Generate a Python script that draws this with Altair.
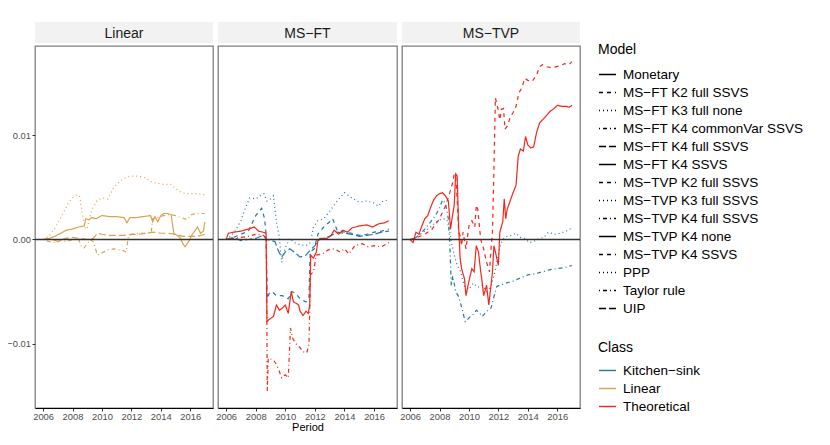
import altair as alt
import pandas as pd

FONT = "Liberation Sans"
M = "\u2212"

PANELS = ["Linear", f"MS{M}FT", f"MS{M}TVP"]
CLASSES = [f"Kitchen{M}sink", "Linear", "Theoretical"]
CLASS_COLORS = ["#2476a8", "#dba24f", "#f2261a"]

MODELS = [
    "Monetary",
    f"MS{M}FT K2 full SSVS",
    f"MS{M}FT K3 full none",
    f"MS{M}FT K4 commonVar SSVS",
    f"MS{M}FT K4 full SSVS",
    f"MS{M}FT K4 SSVS",
    f"MS{M}TVP K2 full SSVS",
    f"MS{M}TVP K3 full SSVS",
    f"MS{M}TVP K4 full SSVS",
    f"MS{M}TVP K4 none",
    f"MS{M}TVP K4 SSVS",
    "PPP",
    "Taylor rule",
    "UIP",
]
SOLID = [1, 0]
DASHED = [4, 4]
DOTTED = [1, 3]
DOTDASH = [1, 3, 4, 3]
LONGDASH = [7, 3]
MODEL_DASHES = [SOLID, DASHED, DOTTED, DOTDASH, LONGDASH, SOLID, DASHED, DOTTED,
                DOTDASH, SOLID, DASHED, DOTTED, DOTDASH, LONGDASH]

X_TICKS = [2006, 2008, 2010, 2012, 2014, 2016]
Y_TICKS = [-0.01, 0.0, 0.01]

# ---------------- Linear panel ----------------
lin_monetary_t = [2006.0, 2006.4, 2006.8, 2007.2, 2007.6, 2008.0, 2008.4, 2008.8, 2008.9, 2009.1,
                  2009.3, 2009.6, 2010.0, 2010.5, 2011.0, 2011.5, 2011.7, 2011.9, 2012.3, 2012.8,
                  2013.3, 2013.45, 2013.6, 2013.8, 2014.0, 2014.2, 2014.4, 2014.7, 2014.9, 2015.0,
                  2015.3, 2015.5, 2015.65, 2015.9, 2016.1, 2016.3, 2016.5, 2016.7, 2016.9, 2017.0]
lin_monetary_v = [0.0, 0.0001, 0.0003, 0.0006, 0.0009, 0.0010, 0.0012, 0.0013, 0.0020, 0.0019,
                  0.0021, 0.0020, 0.0023, 0.0022, 0.0022, 0.0021, 0.0016, 0.0021, 0.0021, 0.0022,
                  0.0023, 0.0017, 0.0022, 0.0017, 0.0023, 0.0025, 0.0025, 0.0024, 0.0005, 0.0005,
                  0.0002, -0.0004, -0.0007, -0.0002, 0.0004, 0.0008, 0.0012, 0.0006, 0.0008, 0.0017]

lin_ppp_t = [2006.0, 2006.4, 2006.8, 2007.2, 2007.5, 2007.75, 2008.0, 2008.3, 2008.5, 2008.65,
             2008.87, 2009.0, 2009.3, 2009.65, 2010.0, 2010.4, 2010.8, 2011.3, 2011.7, 2012.0,
             2012.5, 2013.0, 2013.4, 2013.8, 2014.2, 2014.7, 2015.0, 2015.3, 2015.7, 2016.0,
             2016.5, 2017.0]
lin_ppp_v = [0.0, 0.0003, 0.0011, 0.0021, 0.0029, 0.0036, 0.0040, 0.0043, 0.0041, 0.0026,
             0.0010, 0.0011, 0.0028, 0.0037, 0.0040, 0.0039, 0.0050, 0.0057, 0.0060, 0.0061,
             0.0061, 0.0059, 0.0055, 0.0054, 0.0053, 0.0053, 0.0049, 0.0046, 0.0044, 0.0044,
             0.0044, 0.0043]

lin_taylor_t = [2006.0, 2006.4, 2006.8, 2007.2, 2007.6, 2008.0, 2008.4, 2008.6, 2008.8, 2009.0,
                2009.2, 2009.4, 2009.7, 2010.0, 2010.4, 2010.8, 2011.2, 2011.5, 2011.65, 2011.8,
                2012.0, 2012.5, 2013.0, 2013.35, 2013.45, 2013.8, 2014.2, 2014.6, 2015.0, 2015.4,
                2015.8, 2016.1, 2016.5, 2017.0]
lin_taylor_v = [0.0, -0.0002, -0.0003, -0.0001, -0.0002, 0.0, 0.0001, -0.0007, -0.0008, -0.0004,
                0.0, -0.0002, -0.0015, -0.0013, -0.0010, -0.0009, -0.0010, -0.0011, -0.0012, 0.0003,
                0.0005, 0.0006, 0.0006, 0.0007, 0.0020, 0.0021, 0.0023, 0.0024, 0.0023, 0.0021,
                0.0019, 0.0024, 0.0025, 0.0025]

lin_uip_t = [2006.0, 2006.5, 2007.0, 2007.5, 2008.0, 2008.5, 2009.0, 2009.4, 2009.7, 2010.0,
             2010.5, 2011.0, 2011.5, 2012.0, 2012.5, 2013.0, 2013.5, 2014.0, 2014.5, 2015.0,
             2015.5, 2016.0, 2016.5, 2017.0]
lin_uip_v = [0.0, 0.0001, -0.0002, 0.0001, 0.0002, 0.0001, 0.0, 0.0001, 0.0006, 0.0005,
             0.0004, 0.0004, 0.0004, 0.0005, 0.0005, 0.0006, 0.0007, 0.0006, 0.0006, 0.0005,
             0.0003, 0.0003, 0.0003, 0.0005]

# ---------------- MS-FT panel ----------------
ft_k3_t = [2006.0, 2006.3, 2006.6, 2007.0, 2007.3, 2007.6, 2008.0, 2008.3, 2008.55, 2008.75,
           2009.0, 2009.2, 2009.4, 2009.6, 2009.75, 2010.0, 2010.3, 2010.6, 2011.0, 2011.4,
           2011.7, 2011.9, 2012.2, 2012.6, 2013.0, 2013.5, 2014.0, 2014.5, 2015.0, 2015.5,
           2016.0, 2016.3, 2016.6, 2017.0]
ft_k3_v = [0.0, 0.0003, 0.0008, 0.0018, 0.0030, 0.0040, 0.0039, 0.0042, 0.0044, 0.0037,
           0.0039, 0.0042, 0.0017, 0.0002, -0.0022, -0.0008, 0.0001, -0.0003, -0.0005, -0.0006,
           -0.0003, 0.0012, 0.0018, 0.0020, 0.0027, 0.0037, 0.0045, 0.0040, 0.0036, 0.0037,
           0.0035, 0.0032, 0.0037, 0.0038]

ft_k2_t = [2006.0, 2006.5, 2007.0, 2007.5, 2008.0, 2008.4, 2008.6, 2008.7, 2008.78, 2008.9,
           2009.1, 2009.4, 2009.8, 2010.2, 2010.45, 2010.7, 2011.0, 2011.4, 2011.6, 2011.68,
           2011.95, 2012.2, 2012.6, 2013.0, 2013.2, 2013.5, 2014.0, 2014.5, 2015.0, 2015.5,
           2016.0, 2016.5, 2017.0]
ft_k2_v = [0.0, 0.0002, 0.0005, 0.0008, 0.0023, 0.0030, 0.0020, 0.0005, -0.0057, -0.0052,
           -0.0050, -0.0054, -0.0054, -0.0057, -0.0050, -0.0052, -0.0057, -0.0060, -0.0056, -0.0012,
           -0.0009, 0.0005, 0.0012, 0.0017, 0.0020, 0.0009, 0.0007, 0.0006, 0.0004, 0.0005,
           0.0007, 0.0008, 0.0010]

ft_k4full_t = [2006.0, 2006.5, 2007.0, 2007.5, 2008.0, 2008.5, 2008.75, 2009.0, 2009.3, 2009.5,
               2009.75, 2010.0, 2010.3, 2010.6, 2011.0, 2011.4, 2011.7, 2012.0, 2012.3, 2012.6,
               2013.0, 2013.5, 2014.0, 2014.5, 2015.0, 2015.5, 2016.0, 2016.5, 2017.0]
ft_k4full_v = [0.0, 0.0002, -0.0001, 0.0, 0.0001, 0.0004, 0.0, -0.0001, -0.0002, -0.0010,
               -0.0017, -0.0012, -0.0009, -0.0012, -0.0017, -0.0015, -0.0010, -0.0006, 0.0, 0.0001,
               0.0003, 0.0007, 0.0006, 0.0005, 0.0003, 0.0004, 0.0005, 0.0007, 0.0008]

ft_k4ssvs_t = [2006.0, 2006.15, 2006.5, 2007.0, 2007.5, 2007.9, 2008.2, 2008.5, 2008.7, 2008.76,
               2008.9, 2009.2, 2009.4, 2009.6, 2009.8, 2010.0, 2010.2, 2010.4, 2010.55, 2010.7,
               2010.9, 2011.0, 2011.2, 2011.4, 2011.55, 2011.65, 2011.72, 2011.9, 2012.1, 2012.2,
               2012.35, 2012.8, 2013.1, 2013.3, 2013.6, 2013.9, 2014.2, 2014.5, 2015.0, 2015.5,
               2015.9, 2016.3, 2016.7, 2017.0]
ft_k4ssvs_v = [0.0, 0.0006, 0.0007, 0.0008, 0.0010, 0.0012, 0.0008, 0.0007, 0.0006, -0.0079,
               -0.0077, -0.0074, -0.0063, -0.0068, -0.0066, -0.0063, -0.0071, -0.0050, -0.0060, -0.0061,
               -0.0063, -0.0069, -0.0073, -0.0069, -0.0071, -0.0063, -0.0015, -0.0018, -0.0012, -0.0001,
               0.0001, 0.0001, 0.0004, 0.0009, 0.0005, 0.0009, 0.0007, 0.0011, 0.0013, 0.0014,
               0.0012, 0.0015, 0.0016, 0.0018]

ft_common_t = [2006.0, 2006.5, 2007.0, 2007.5, 2008.0, 2008.5, 2008.72, 2008.78, 2008.85, 2009.2,
               2009.4, 2009.6, 2009.75, 2010.0, 2010.2, 2010.35, 2010.5, 2010.7, 2011.0, 2011.2,
               2011.45, 2011.6, 2011.7, 2011.9, 2012.1, 2012.5, 2012.9, 2013.3, 2013.7, 2014.0,
               2014.3, 2014.7, 2015.2, 2015.6, 2016.0, 2016.5, 2017.0]
ft_common_v = [0.0, 0.0001, 0.0002, 0.0003, 0.0005, 0.0004, 0.0002, -0.0146, -0.0114, -0.0116,
               -0.0120, -0.0127, -0.0133, -0.0130, -0.0133, -0.0085, -0.0095, -0.0100, -0.0104, -0.0108,
               -0.0109, -0.0101, -0.0034, -0.0031, -0.0015, -0.0014, -0.0010, -0.0009, -0.0012, -0.0009,
               -0.0014, -0.0006, -0.0004, -0.0007, -0.0006, -0.0007, -0.0003]

# ---------------- MS-TVP panel ----------------
tvp_none_t = [2006.0, 2006.2, 2006.4, 2006.6, 2006.8, 2007.0, 2007.2, 2007.4, 2007.6, 2007.8,
              2008.0, 2008.2, 2008.4, 2008.6, 2008.75, 2008.85, 2009.0, 2009.1, 2009.2, 2009.3,
              2009.4, 2009.5, 2009.7, 2009.8, 2010.0, 2010.2, 2010.35, 2010.5, 2010.65, 2010.8,
              2010.9, 2011.0, 2011.2, 2011.35, 2011.5, 2011.6, 2011.7, 2011.8, 2012.0, 2012.1,
              2012.3, 2012.4, 2012.5, 2012.6, 2012.8, 2013.0, 2013.2, 2013.35, 2013.5, 2013.7,
              2013.85, 2014.0, 2014.2, 2014.4, 2014.6, 2014.8, 2015.0, 2015.2, 2015.5, 2015.8,
              2016.0, 2016.3, 2016.6, 2016.8, 2017.0]
tvp_none_v = [0.0, -0.0003, 0.0007, 0.0005, 0.0013, 0.0020, 0.0023, 0.0031, 0.0038, 0.0042,
              0.0044, 0.0045, 0.0042, 0.0037, 0.0010, 0.0020, 0.0033, 0.0063, 0.0061, 0.0013,
              -0.0018, -0.0028, -0.0038, -0.0054, -0.0040, -0.0028, -0.0031, -0.0006, -0.0012, -0.0031,
              -0.0041, -0.0054, -0.0044, -0.0063, -0.0044, -0.0031, -0.0006, -0.0012, -0.0025, 0.0007,
              0.0017, 0.0039, 0.0020, 0.0029, 0.0037, 0.0045, 0.0052, 0.0080, 0.0087, 0.0085,
              0.0099, 0.0091, 0.0088, 0.0089, 0.0103, 0.0112, 0.0115, 0.0118, 0.0123, 0.0126,
              0.0129, 0.0128, 0.0128, 0.0127, 0.0129]

tvp_ssvs_t = [2006.0, 2006.5, 2007.0, 2007.5, 2008.0, 2008.4, 2008.7, 2008.9, 2009.0, 2009.1,
              2009.2, 2009.3, 2009.4, 2009.5, 2009.6, 2009.8, 2010.0, 2010.2, 2010.4, 2010.5,
              2010.6, 2010.8, 2011.0, 2011.2, 2011.4, 2011.5, 2011.6, 2011.7, 2011.8, 2011.9,
              2012.0, 2012.1, 2012.2, 2012.35, 2012.45, 2012.6, 2012.8, 2013.0, 2013.2, 2013.4,
              2013.6, 2013.8, 2014.0, 2014.3, 2014.6, 2014.8, 2015.0, 2015.3, 2015.6, 2015.9,
              2016.2, 2016.5, 2016.8, 2017.0]
tvp_ssvs_v = [0.0, 0.0002, 0.0005, 0.0010, 0.0020, 0.0032, 0.0045, 0.0055, 0.0063, 0.0061,
              0.0039, 0.0007, 0.0004, -0.0006, 0.0007, -0.0009, 0.0013, 0.0018, 0.0012, 0.0033,
              0.0029, 0.0, -0.0009, -0.0022, -0.0031, -0.0009, 0.0007, 0.0068, 0.0136, 0.0130,
              0.0124, 0.0115, 0.0125, 0.0126, 0.0106, 0.0109, 0.0117, 0.0122, 0.0128, 0.0141,
              0.0146, 0.0155, 0.0153, 0.0152, 0.0158, 0.0166, 0.0168, 0.0166, 0.0165, 0.0166,
              0.0167, 0.0169, 0.0168, 0.0171]

tvp_k4full_t = [2006.0, 2006.3, 2006.6, 2007.0, 2007.4, 2007.8, 2008.0, 2008.2, 2008.4, 2008.6,
                2008.7, 2008.8, 2008.9, 2009.1, 2009.3, 2009.5, 2009.75, 2009.9, 2010.1, 2010.3,
                2010.5, 2010.7, 2010.9, 2011.1, 2011.3, 2011.5, 2011.7, 2011.9, 2012.2, 2012.5,
                2013.0, 2013.5, 2014.0, 2014.5, 2015.0, 2015.5, 2016.0, 2016.5, 2017.0]
tvp_k4full_v = [0.0, 0.0001, 0.0004, 0.0010, 0.0017, 0.0025, 0.0030, 0.0038, 0.0035, 0.0020,
                -0.0005, -0.0045, -0.0035, -0.0050, -0.0055, -0.0065, -0.0079, -0.0077, -0.0074, -0.0072,
                -0.0068, -0.0070, -0.0074, -0.0071, -0.0068, -0.0066, -0.0055, -0.0045, -0.0044, -0.0042,
                -0.0040, -0.0037, -0.0034, -0.0033, -0.0031, -0.0029, -0.0028, -0.0027, -0.0025]

tvp_k3_t = [2006.0, 2006.3, 2006.6, 2007.0, 2007.4, 2007.8, 2008.2, 2008.5, 2008.7, 2008.8,
            2009.0, 2009.2, 2009.4, 2009.7, 2010.0, 2010.3, 2010.6, 2010.9, 2011.2, 2011.5,
            2011.7, 2011.9, 2012.1, 2012.3, 2012.6, 2012.9, 2013.2, 2013.5, 2013.8, 2014.1,
            2014.4, 2014.8, 2015.1, 2015.4, 2015.8, 2016.2, 2016.6, 2017.0]
tvp_k3_v = [0.0, 0.0001, 0.0004, 0.0008, 0.0012, 0.0017, 0.0020, 0.0019, 0.0008, -0.0002,
            -0.0015, -0.0025, -0.0030, -0.0045, -0.0048, -0.0042, -0.0046, -0.0044, -0.0050, -0.0045,
            -0.0035, -0.0022, -0.0008, 0.0, 0.0003, 0.0004, 0.0006, 0.0002, 0.0001, -0.0003,
            -0.0002, 0.0001, 0.0002, 0.0007, 0.0005, 0.0006, 0.0008, 0.0011]

SERIES = [
    (PANELS[0], MODELS[0], CLASSES[1], lin_monetary_t, lin_monetary_v),
    (PANELS[0], MODELS[11], CLASSES[1], lin_ppp_t, lin_ppp_v),
    (PANELS[0], MODELS[12], CLASSES[1], lin_taylor_t, lin_taylor_v),
    (PANELS[0], MODELS[13], CLASSES[1], lin_uip_t, lin_uip_v),
    (PANELS[1], MODELS[1], CLASSES[0], ft_k2_t, ft_k2_v),
    (PANELS[1], MODELS[2], CLASSES[0], ft_k3_t, ft_k3_v),
    (PANELS[1], MODELS[4], CLASSES[0], ft_k4full_t, ft_k4full_v),
    (PANELS[1], MODELS[3], CLASSES[2], ft_common_t, ft_common_v),
    (PANELS[1], MODELS[5], CLASSES[2], ft_k4ssvs_t, ft_k4ssvs_v),
    (PANELS[2], MODELS[7], CLASSES[0], tvp_k3_t, tvp_k3_v),
    (PANELS[2], MODELS[8], CLASSES[0], tvp_k4full_t, tvp_k4full_v),
    (PANELS[2], MODELS[10], CLASSES[2], tvp_ssvs_t, tvp_ssvs_v),
    (PANELS[2], MODELS[9], CLASSES[2], tvp_none_t, tvp_none_v),
]

rows = []
for panel, model, cls, ts, vs in SERIES:
    for t, v in zip(ts, vs):
        rows.append({"Panel": panel, "Model": model, "Class": cls, "Period": t, "Value": v})
df = pd.DataFrame(rows)

WIDTHS = [178, 179, 178]
PLOT_H = 362
STRIP_H = 21

x_scale = alt.Scale(domain=[2005.45, 2017.55], nice=False, zero=False)
y_scale = alt.Scale(domain=[-0.0162, 0.0186], nice=False, zero=False)

color_legend = alt.Legend(
    title="Class", orient="none", legendX=563, legendY=319,
    symbolType="stroke", symbolSize=289, symbolStrokeWidth=1.4,
    labelFontSize=13.5, titleFontSize=14, titleFontWeight="normal",
    labelFont=FONT, titleFont=FONT, labelColor="#000000", titleColor="#000000",
    rowPadding=2, titlePadding=6, labelOffset=6,
)
dash_legend = alt.Legend(
    title="Model", orient="none", legendX=563, legendY=21,
    symbolType="stroke", symbolSize=289, symbolStrokeWidth=1.4,
    symbolStrokeColor="#000000",
    labelFontSize=13.5, titleFontSize=14, titleFontWeight="normal",
    labelFont=FONT, titleFont=FONT, labelColor="#000000", titleColor="#000000",
    rowPadding=2, titlePadding=8, labelOffset=6, labelLimit=400,
)


def make_panel(i):
    name = PANELS[i]
    w = WIDTHS[i]
    strip_df = pd.DataFrame({"Panel": [name]})
    strip = alt.layer(
        alt.Chart(strip_df).mark_rect(color="#f2f2f2").encode(
            x=alt.value(0), x2=alt.value(w), y=alt.value(0), y2=alt.value(STRIP_H)),
        alt.Chart(strip_df).mark_text(fontSize=14, font=FONT, color="#1a1a1a",
                                      baseline="middle").encode(
            text="Panel:N", x=alt.value(w / 2), y=alt.value(STRIP_H / 2 + 1)),
    ).properties(width=w, height=STRIP_H, view=alt.ViewBackground(stroke="transparent"))

    x_axis = alt.Axis(values=X_TICKS, format="d", title="Period" if i == 1 else None,
                      titleFontSize=11, titleFont=FONT, titleFontWeight="normal",
                      titleColor="#000000", titlePadding=1, labelPadding=1.5)
    y_axis = alt.Axis(values=Y_TICKS, format=".2f", title=None, domain=False, labelPadding=1.5)

    sub = df[df["Panel"] == name]
    lines = alt.Chart(sub).mark_line(strokeWidth=1.2, clip=True).encode(
        x=alt.X("Period:Q", scale=x_scale, axis=x_axis),
        y=alt.Y("Value:Q", scale=y_scale, axis=y_axis if i == 0 else None),
        color=alt.Color("Class:N", scale=alt.Scale(domain=CLASSES, range=CLASS_COLORS),
                        legend=color_legend),
        strokeDash=alt.StrokeDash("Model:N", scale=alt.Scale(domain=MODELS, range=MODEL_DASHES),
                                  legend=dash_legend),
    )
    zero = alt.Chart(pd.DataFrame({"Value": [0.0]})).mark_rule(
        color="#333333", strokeWidth=1.3).encode(
        y=alt.Y("Value:Q", scale=y_scale, axis=y_axis if i == 0 else None))
    plot = alt.layer(lines, zero).properties(width=w, height=PLOT_H)
    return alt.vconcat(strip, plot, spacing=1)


chart = alt.hconcat(*[make_panel(i) for i in range(3)], spacing=0).resolve_scale(
    x="independent", y="independent"
).properties(
    padding={"left": -2, "top": 13, "right": 5, "bottom": 0}
).configure_view(
    stroke="#7f7f7f", strokeWidth=1.3
).configure_axis(
    labelFont=FONT, labelFontSize=9.4, labelColor="#4d4d4d",
    tickColor="#333333", tickSize=3, grid=False,
    domainColor="#000000", domainWidth=1.1,
)

chart.save("out.html", embed_options={"renderer": "svg", "actions": False})
